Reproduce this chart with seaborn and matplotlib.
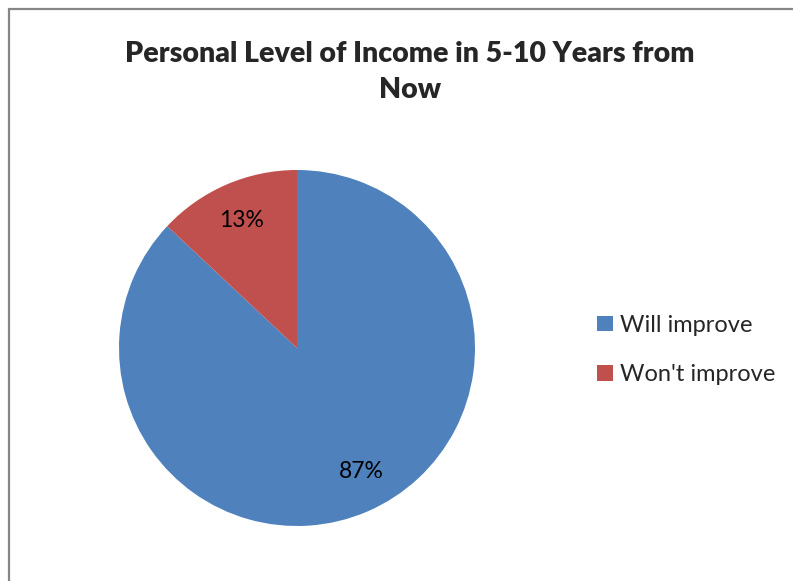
import matplotlib
matplotlib.use("Agg")
import matplotlib.pyplot as plt
from matplotlib.lines import Line2D
from matplotlib.patches import Patch
import seaborn as sns

categories = ["Will improve", "Won't improve"]
shares = [87, 13]
colors = ["#4F81BD", "#C0504D"]
title = "Personal Level of Income in 5-10 Years from\nNow"

sns.set_theme(style="white")
plt.rcParams["font.family"] = ["Lato", "DejaVu Sans"]

W, H = 793, 581
fig = plt.figure(figsize=(W / 100, H / 100), dpi=100)
fig.patch.set_facecolor("white")

# chart-area frame: left and top edges
fig.add_artist(Line2D([8.5 / W, 8.5 / W], [0, 1 - 8.5 / H], transform=fig.transFigure,
                      color="#868686", lw=1.6))
fig.add_artist(Line2D([8.5 / W, 1], [1 - 8.5 / H, 1 - 8.5 / H], transform=fig.transFigure,
                      color="#868686", lw=1.6))

# pie axes: centre (297, 348) px, radius 178 px
cx, cy, r = 297, 348, 178
ax = fig.add_axes([(cx - r) / W, (H - cy - r) / H, 2 * r / W, 2 * r / H])
wedges, _, autotexts = ax.pie(
    shares, colors=colors, startangle=90, counterclock=False,
    autopct="%1.0f%%", pctdistance=0.78,
    wedgeprops=dict(linewidth=0),
    textprops=dict(fontsize=16.5, color="black"),
)
# nudge the large-slice label slightly outward
x0, y0 = autotexts[0].get_position()
autotexts[0].set_position((x0 + 0.05, y0 + 0.02))
ax.set_xlim(-1, 1)
ax.set_ylim(-1, 1)
ax.set_aspect("equal")
ax.axis("off")

fig.text(410 / W, 1 - 72 / H, title, ha="center", va="center",
         fontsize=20.5, fontweight="heavy", linespacing=1.45)

handles = [Patch(facecolor=c, edgecolor="none") for c in colors]
fig.legend(handles, categories, loc="center left",
           bbox_to_anchor=(576 / W, 1 - 350 / H), frameon=False,
           fontsize=17, handlelength=0.65, handleheight=0.65,
           handletextpad=0.3, labelspacing=1.2)

fig.savefig("out.png", dpi=100, facecolor="white")
